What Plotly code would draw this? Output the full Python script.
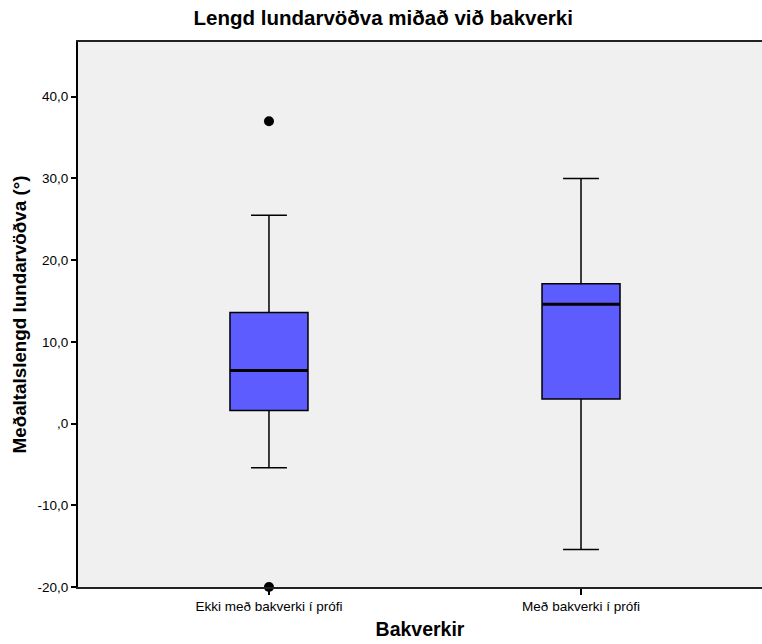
import plotly.graph_objects as go

categories = ["Ekki með bakverki í prófi", "Með bakverki í prófi"]
q1 = [1.6, 3.0]
median = [6.5, 14.6]
q3 = [13.6, 17.1]
lower_whisker = [-5.4, -15.4]
upper_whisker = [25.5, 30.0]
outlier_cat = [0, 0]
outlier_val = [37.0, -20.0]
y_tick_vals = [-20, -10, 0, 10, 20, 30, 40]
y_tick_text = ["-20,0", "-10,0", ",0", "10,0", "20,0", "30,0", "40,0"]

BOX_W = 0.25
font_family = "Liberation Sans, Arial, sans-serif"

fig = go.Figure()
pos = list(range(len(categories)))
fig.add_trace(go.Box(
    x=pos, q1=q1, median=median, q3=q3,
    lowerfence=lower_whisker, upperfence=upper_whisker,
    width=BOX_W, whiskerwidth=0.46,
    fillcolor="#5c5cff", line=dict(color="black", width=1.5),
    boxpoints=False, showlegend=False, hoverinfo="y",
))
for i in pos:
    fig.add_trace(go.Scatter(
        x=[i - BOX_W / 2, i + BOX_W / 2], y=[median[i], median[i]],
        mode="lines", line=dict(color="black", width=3),
        showlegend=False, hoverinfo="skip",
    ))
fig.add_trace(go.Scatter(
    x=outlier_cat, y=outlier_val, mode="markers",
    marker=dict(color="black", size=10), cliponaxis=False,
    showlegend=False,
))

fig.update_layout(
    width=762, height=644,
    margin=dict(l=78, r=0, t=42, b=57),
    paper_bgcolor="white", plot_bgcolor="#f0f0f0",
    font=dict(family=font_family, color="black"),
    title=dict(text="<b>Lengd lundarvöðva miðað við bakverki</b>",
               x=0.503, xanchor="center", y=0.972, yanchor="middle",
               font=dict(size=20.5, family=font_family)),
)
fig.update_xaxes(
    tickvals=pos, ticktext=categories, range=[-0.612, 1.58],
    showgrid=False, zeroline=False,
    showline=True, linecolor="#222", linewidth=2, mirror=True,
    ticks="outside", ticklen=6, tickcolor="black", tickwidth=1.5,
    tickfont=dict(size=13.5),
    title=dict(text="<b>Bakverkir</b>", font=dict(size=19.5), standoff=9),
)
fig.update_yaxes(
    range=[-20, 46.7], tickvals=y_tick_vals, ticktext=y_tick_text,
    showgrid=False, zeroline=False,
    showline=True, linecolor="black", linewidth=2,
    ticks="outside", ticklen=5, tickcolor="black", tickwidth=1.5,
    tickfont=dict(size=13.5),
    title=dict(text="<b>Meðaltalslengd lundarvöðva (°)</b>", font=dict(size=18.8), standoff=6),
)

fig.write_html(
    "out.html",
    config={"displayModeBar": False},
    post_script=(
        "document.documentElement.style.overflow='hidden';"
        "document.body.style.margin='0';document.body.style.overflow='hidden';"
    ),
)
